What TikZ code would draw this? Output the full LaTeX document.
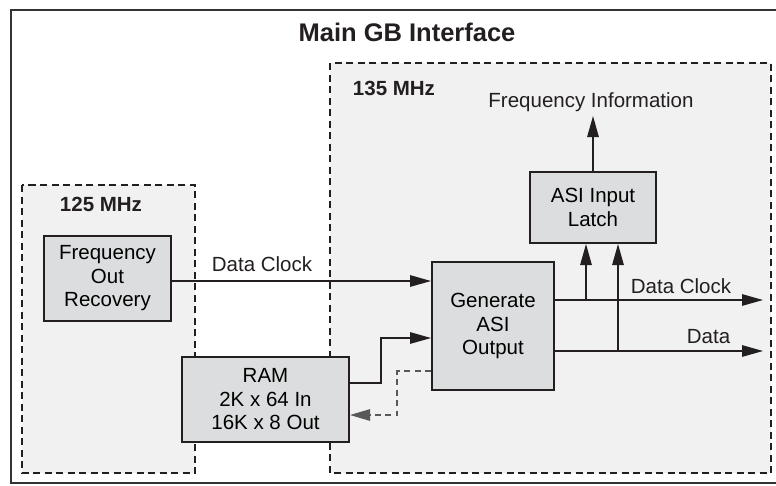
\documentclass[tikz,border=0pt]{standalone}
\usepackage{fontspec}
\setmainfont{Liberation Sans}
\usetikzlibrary{arrows.meta}
\definecolor{ink}{HTML}{231F20}
\definecolor{zonefill}{HTML}{F1F1F1}
\definecolor{blockfill}{HTML}{DCDDDE}
\definecolor{framecol}{HTML}{333333}
\tikzset{
  zone/.style={draw=ink, fill=zonefill, line width=1.6pt, dash pattern=on 7pt off 4.5pt},
  block/.style={draw=ink, fill=blockfill, line width=2pt, align=center, inner sep=0pt,
    font=\fontsize{20.5}{23.5}\selectfont},
  wire/.style={draw=ink, line width=1.3pt},
  arr/.style={wire, -{Triangle[length=21pt,width=11.5pt]}},
  darr/.style={draw=ink!75, line width=1.2pt, dash pattern=on 6pt off 4.5pt,
    -{Triangle[length=20pt,width=11.5pt]}},
  lbl/.style={font=\fontsize{20.5}{23.5}\selectfont, inner sep=0pt, text=ink},
  zlbl/.style={font=\bfseries\fontsize{20.5}{23.5}\selectfont, inner sep=0pt, text=ink}
}
\begin{document}
\begin{tikzpicture}[x=1pt,y=-1pt]
  % canvas
  \path[fill=white] (0,0) rectangle (776,485);
  \useasboundingbox (0,0) rectangle (776,485);
  \begin{scope}
    \clip (0,0) rectangle (776,485);
    % outer frame, running past the right edge
    \draw[framecol, line width=2.4pt] (11,10) rectangle (790,483);
  \end{scope}
  \node[font=\bfseries\fontsize{25.5}{28}\selectfont, inner sep=0pt, text=ink] (title) at (407,32) {Main GB Interface};

  % clock domains
  \path[zone] (22,185) rectangle (195,473);
  \path[zone] (330,63) rectangle (771,473);
  \node[zlbl] (z125) at (101,204) {125 MHz};
  \node[zlbl] (z135) at (394,88) {135 MHz};

  % blocks
  \node[block, minimum width=127pt, minimum height=85pt] (freq) at (107.5,278.5) {Frequency\\Out\\Recovery};
  \node[block, minimum width=167pt, minimum height=85pt] (ram) at (265.5,399.5) {RAM\\2K x 64 In\\16K x 8 Out};
  \node[block, minimum width=122pt, minimum height=128pt] (gen) at (493,326) {Generate\\ASI\\Output};
  \node[block, minimum width=126pt, minimum height=71pt] (latch) at (593,207.5) {ASI Input\\Latch};

  % signal levels and taps
  \coordinate (dcin) at (0,281);
  \coordinate (dcout) at (0,300);
  \coordinate (dout) at (0,351);
  \coordinate (ramout) at (0,383);
  \coordinate (genin) at (0,338);
  \coordinate (fb) at (0,371);
  \coordinate (fbret) at (0,415);
  \coordinate (tapA) at (586,0);
  \coordinate (tapB) at (618,0);
  \coordinate (dcend) at (763,300);
  \coordinate (dend) at (763,351);
  \coordinate (fiend) at (593,116);

  % connectors
  \draw[arr] (freq.east |- dcin) -- (gen.west |- dcin);
  \draw[arr] (gen.east |- dcout) -- (dcend);
  \draw[arr] (gen.east |- dout) -- (dend);
  \draw[arr] (tapA |- dcout) -- (tapA |- latch.south);
  \draw[arr] (tapB |- dout) -- (tapB |- latch.south);
  \draw[arr] (latch.north) -- (fiend);
  \draw[arr] (ram.east |- ramout) -- (381,383) -- (381,338) -- (gen.west |- genin);
  \draw[darr] (gen.west |- fb) -- (397,371) -- (397,415) -- (ram.east |- fbret);

  % labels
  \node[lbl] (ldcin) at (262,264) {Data Clock};
  \node[lbl] (ldcout) at (681,286) {Data Clock};
  \node[lbl] (ldata) at (708.5,337) {Data};
  \node[lbl] (lfi) at (591,102) {Frequency Information};
\end{tikzpicture}
\end{document}
